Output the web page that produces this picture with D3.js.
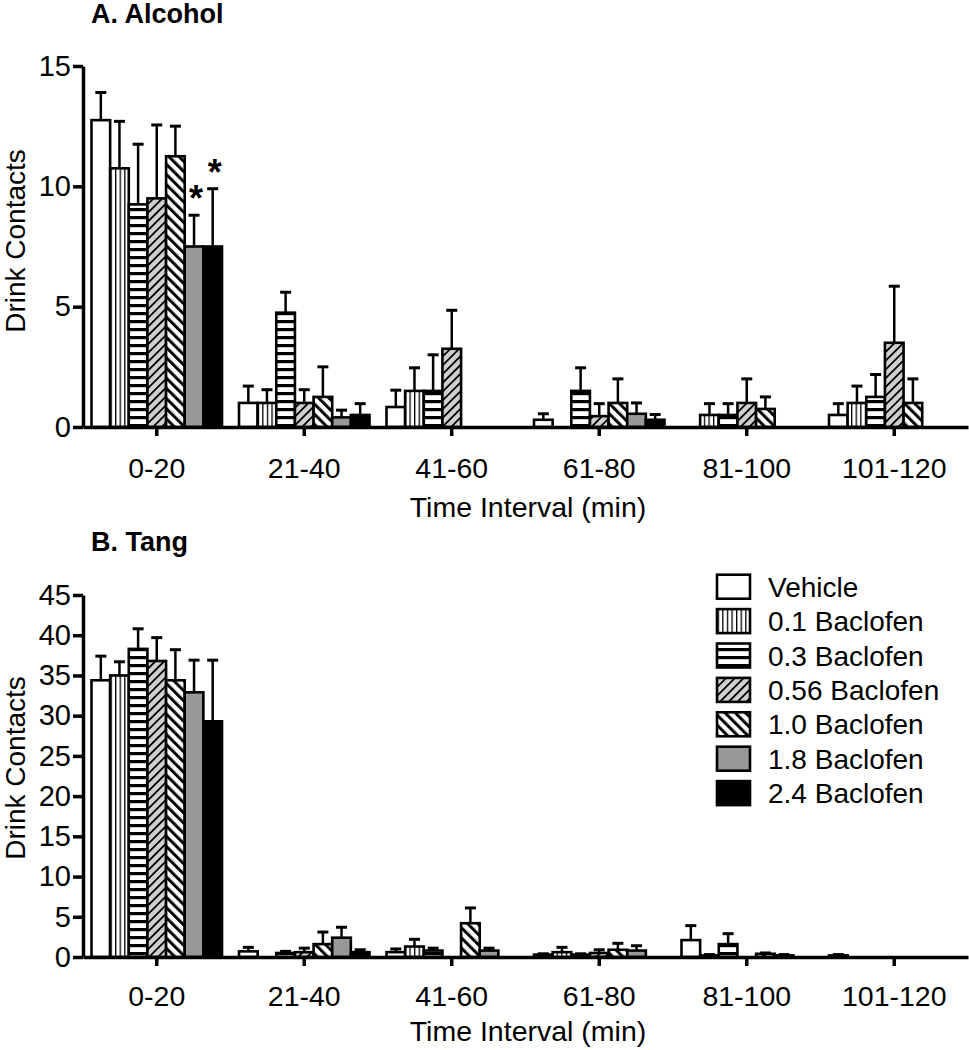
<!DOCTYPE html>
<html>
<head>
<meta charset="utf-8">
<script src="https://cdn.jsdelivr.net/npm/d3@7"></script>
<style>
  html, body { margin: 0; padding: 0; background: #fff; }
  svg { display: block; font-family: "Liberation Sans", Arial, sans-serif; }
</style>
</head>
<body>
<svg id="chart" width="969" height="1050"></svg>
<script>
// ---------- DATA ----------
const categories = ["0-20", "21-40", "41-60", "61-80", "81-100", "101-120"];
const seriesNames = ["Vehicle", "0.1 Baclofen", "0.3 Baclofen", "0.56 Baclofen", "1.0 Baclofen", "1.8 Baclofen", "2.4 Baclofen"];

// Alcohol: means per series across categories
const alcoholVehicle = [12.75, 1.0, 0.83, 0.3, 0, 0.5];
const alcohol01      = [10.75, 1.0, 1.5, 0, 0.5, 1.0];
const alcohol03      = [9.25, 4.75, 1.5, 1.5, 0.5, 1.25];
const alcohol056     = [9.5, 1.0, 3.25, 0.45, 1.0, 3.5];
const alcohol10      = [11.25, 1.25, 0, 1.0, 0.75, 1.0];
const alcohol18      = [7.5, 0.4, 0, 0.55, 0, 0];
const alcohol24      = [7.5, 0.5, 0, 0.3, 0, 0];
// Alcohol: SEM
const alcoholVehicleErr = [1.15, 0.7, 0.7, 0.25, 0, 0.47];
const alcohol01Err      = [1.95, 0.55, 0.96, 0, 0.47, 0.7];
const alcohol03Err      = [2.5, 0.85, 1.5, 0.96, 0.47, 0.93];
const alcohol056Err     = [3.05, 0.55, 1.6, 0.52, 1.0, 2.35];
const alcohol10Err      = [1.25, 1.25, 0, 1.0, 0.5, 1.0];
const alcohol18Err      = [1.3, 0.3, 0, 0.45, 0, 0];
const alcohol24Err      = [2.4, 0.47, 0, 0.22, 0, 0];

// Tang: means
const tangVehicle = [34.4, 0.7, 0.6, 0.3, 2.1, 0.2];
const tang01      = [35.0, 0, 1.3, 0.6, 0.2, 0];
const tang03      = [38.3, 0.5, 0.8, 0.3, 1.6, 0];
const tang056     = [36.8, 0.6, 0, 0.5, 0, 0];
const tang10      = [34.4, 1.6, 4.2, 0.9, 0.4, 0];
const tang18      = [32.9, 2.4, 0.8, 0.8, 0.2, 0];
const tang24      = [29.3, 0.6, 0, 0, 0, 0];
// Tang: SEM
const tangVehicleErr = [3.0, 0.5, 0.4, 0.1, 1.8, 0.1];
const tang01Err      = [1.7, 0, 0.9, 0.6, 0.1, 0];
const tang03Err      = [2.5, 0.2, 0.3, 0.1, 1.3, 0];
const tang056Err     = [2.9, 0.5, 0, 0.4, 0, 0];
const tang10Err      = [3.8, 1.5, 1.9, 0.8, 0.1, 0];
const tang18Err      = [4.0, 1.3, 0.3, 0.6, 0.1, 0];
const tang24Err      = [7.6, 0.3, 0, 0, 0, 0];

const alcoholTicks = [0, 5, 10, 15];
const tangTicks = [0, 5, 10, 15, 20, 25, 30, 35, 40, 45];

// significance markers (series index, category) in Alcohol panel
const alcoholStars = [{ series: 5, cat: "0-20" }, { series: 6, cat: "0-20" }];

const alcoholMeans = [alcoholVehicle, alcohol01, alcohol03, alcohol056, alcohol10, alcohol18, alcohol24];
const alcoholErrs = [alcoholVehicleErr, alcohol01Err, alcohol03Err, alcohol056Err, alcohol10Err, alcohol18Err, alcohol24Err];
const tangMeans = [tangVehicle, tang01, tang03, tang056, tang10, tang18, tang24];
const tangErrs = [tangVehicleErr, tang01Err, tang03Err, tang056Err, tang10Err, tang18Err, tang24Err];

// ---------- STYLE ----------
const FONT = "'Liberation Sans', Arial, sans-serif";
const svg = d3.select("#chart");
const defs = svg.append("defs");

function pat(id, w, h, rot, bg, draw) {
  const p = defs.append("pattern").attr("id", id)
    .attr("patternUnits", "userSpaceOnUse").attr("width", w).attr("height", h);
  if (rot) p.attr("patternTransform", `rotate(${rot})`);
  p.append("rect").attr("width", w).attr("height", h).attr("fill", bg);
  draw(p);
}
pat("pVert", 4.6, 10, 0, "#fff", p => p.append("rect").attr("x", 0).attr("y", 0).attr("width", 1.3).attr("height", 10).attr("fill", "#000"));
pat("pHoriz", 10, 8, 0, "#fff", p => p.append("rect").attr("x", 0).attr("y", 0).attr("width", 10).attr("height", 3.2).attr("fill", "#000"));
pat("pDiagUp", 6.2, 10, 45, "#cfcfcf", p => p.append("rect").attr("x", 0).attr("y", 0).attr("width", 1.8).attr("height", 10).attr("fill", "#000"));
pat("pDiagDown", 7.2, 10, -45, "#fff", p => p.append("rect").attr("x", 0).attr("y", 0).attr("width", 3.0).attr("height", 10).attr("fill", "#000"));

const fills = ["#fff", "url(#pVert)", "url(#pHoriz)", "url(#pDiagUp)", "url(#pDiagDown)", "#989898", "#000"];

const X0 = 83, X1 = 968;
const x = d3.scaleBand().domain(categories).range([X0, X1]).padding(0);
const x1 = d3.scaleBand().domain(d3.range(seriesNames.length)).range([8.5, x.bandwidth() - 8.5]).padding(0);

function drawPanel(cfg) {
  const { means, errs, ticks, yTop, yBottom, yMax, title, titleY, catY, axisTitleY, labelY, stars } = cfg;
  const g = svg.append("g");
  const y = d3.scaleLinear().domain([0, yMax]).range([yBottom, yTop]);

  seriesNames.forEach((s, si) => {
    const rows = categories.map((c, ci) => ({ c, v: means[si][ci], e: errs[si][ci] }));
    const gs = g.append("g");
    rows.filter(d => d.e > 0).forEach(d => {
      const cx = x(d.c) + x1(si) + x1.bandwidth() / 2;
      gs.append("line").attr("x1", cx).attr("x2", cx).attr("y1", y(d.v)).attr("y2", y(d.v + d.e))
        .attr("stroke", "#000").attr("stroke-width", 2.5);
      gs.append("line").attr("x1", cx - 5.5).attr("x2", cx + 5.5).attr("y1", y(d.v + d.e)).attr("y2", y(d.v + d.e))
        .attr("stroke", "#000").attr("stroke-width", 3);
    });
    gs.selectAll("rect").data(rows.filter(d => d.v > 0)).join("rect")
      .attr("x", d => x(d.c) + x1(si))
      .attr("y", d => y(d.v))
      .attr("width", x1.bandwidth())
      .attr("height", d => y(0) - y(d.v))
      .attr("fill", fills[si])
      .attr("stroke", "#000")
      .attr("stroke-width", 2.6);
  });

  (stars || []).forEach(st => {
    const ci = categories.indexOf(st.cat);
    const cx = x(st.cat) + x1(st.series) + x1.bandwidth() / 2;
    const top = y(means[st.series][ci] + errs[st.series][ci]);
    g.append("text").attr("x", cx + 2).attr("y", top - 4).attr("text-anchor", "middle")
      .attr("font-family", FONT).attr("font-size", 36).attr("font-weight", "bold").text("*");
  });

  const ya = g.append("g").attr("transform", `translate(${X0},0)`)
    .call(d3.axisLeft(y).tickValues(ticks).tickSize(10).tickSizeOuter(0).tickPadding(2));
  ya.select(".domain").attr("stroke-width", 3.5).attr("stroke", "#000");
  ya.selectAll(".tick line").attr("stroke-width", 3.5);
  ya.selectAll(".tick text").attr("font-size", 29).attr("fill", "#000").attr("font-family", FONT);

  const xa = g.append("g").attr("transform", `translate(0,${yBottom})`)
    .call(d3.axisBottom(x).tickSize(9).tickSizeOuter(0).tickFormat(() => ""));
  xa.select(".domain").attr("stroke-width", 3.5).attr("stroke", "#000");
  xa.selectAll(".tick line").attr("stroke-width", 3.5);

  categories.forEach(c => {
    g.append("text").attr("x", x(c) + x.bandwidth() / 2).attr("y", catY).attr("text-anchor", "middle")
      .attr("font-family", FONT).attr("font-size", 28.5).text(c);
  });

  g.append("text").attr("x", 528).attr("y", axisTitleY).attr("text-anchor", "middle")
    .attr("font-family", FONT).attr("font-size", 28.5).text("Time Interval (min)");

  g.append("text").attr("transform", `translate(25,${labelY}) rotate(-90)`).attr("text-anchor", "middle")
    .attr("font-family", FONT).attr("font-size", 28).text("Drink Contacts");

  g.append("text").attr("x", 91).attr("y", titleY).attr("font-family", FONT)
    .attr("font-size", 27).attr("font-weight", "bold").text(title);
}

drawPanel({
  means: alcoholMeans, errs: alcoholErrs, ticks: alcoholTicks,
  yTop: 66, yBottom: 427, yMax: 15,
  title: "A. Alcohol", titleY: 23, catY: 478, axisTitleY: 517, labelY: 241, stars: alcoholStars
});
drawPanel({
  means: tangMeans, errs: tangErrs, ticks: tangTicks,
  yTop: 595, yBottom: 957, yMax: 45,
  title: "B. Tang", titleY: 551, catY: 1006, axisTitleY: 1041, labelY: 768
});

const lg = svg.append("g");
seriesNames.forEach((s, i) => {
  const cy = 586.7 + i * 34.4;
  lg.append("rect").attr("x", 717).attr("y", cy - 12).attr("width", 33).attr("height", 24)
    .attr("fill", fills[i]).attr("stroke", "#000").attr("stroke-width", 2.6);
  lg.append("text").attr("x", 768).attr("y", cy + 10).attr("font-family", FONT).attr("font-size", 28).text(s);
});
</script>
</body>
</html>
